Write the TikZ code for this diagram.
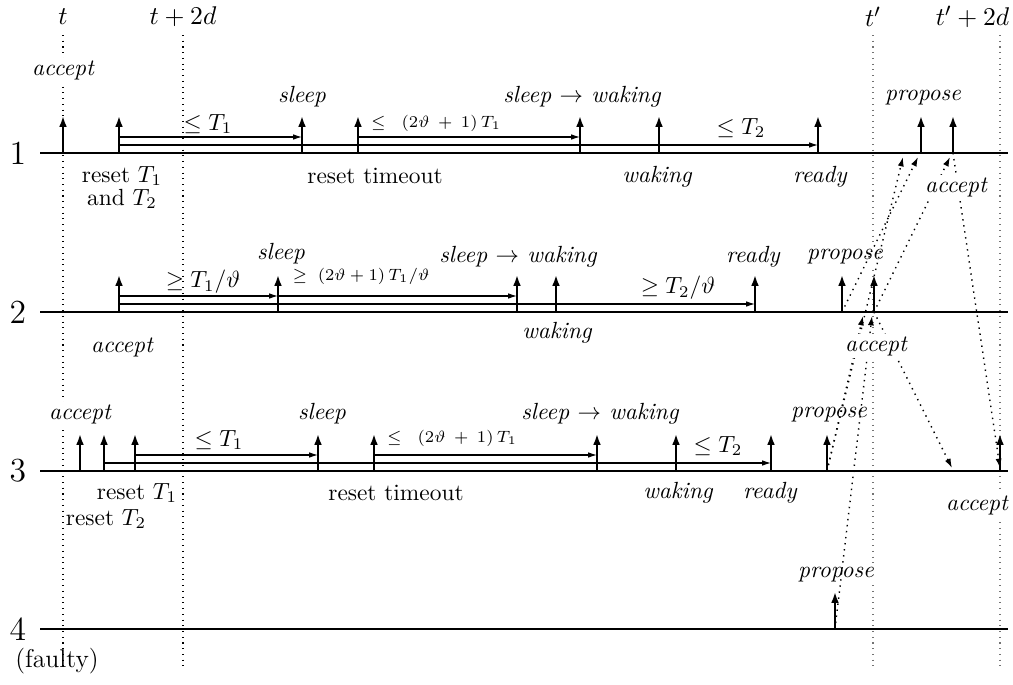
\documentclass[tikz,border=0pt]{standalone}
\usetikzlibrary{arrows.meta,calc}
\begin{document}
\begin{tikzpicture}[x=0.4275pt,y=-0.4275pt,
  procline/.style={line width=0.8pt},
  evarrow/.style={line width=0.9pt,-{Latex[length=4.6pt,width=3.3pt]}},
  tmarrow/.style={line width=0.5pt,-{Latex[length=3.8pt,width=2.4pt]}},
  timemark/.style={dotted,line width=0.45pt},
  timemarkg/.style={dotted,line width=0.45pt,black!55},
  msg/.style={line width=0.6pt,dotted,-{Latex[length=4pt,width=2.6pt]}},
  lab/.style={fill=white,inner sep=1pt,font=\itshape},
  plab/.style={fill=white,inner sep=1pt},
  bound/.style={inner sep=1pt},
  sbound/.style={inner sep=0.5pt,font=\scriptsize},
  rownum/.style={inner sep=1pt,font=\fontsize{14.4}{16}\selectfont},
  timelab/.style={inner sep=1pt,font=\fontsize{11}{13}\selectfont}
]
\useasboundingbox (0,0) rectangle (1013,685);

% an event: base point on the process line and an upward arrow
\newcommand\procevent[3]{%
  \coordinate (#1) at (#2,#3);
  \coordinate (#1t) at (#2,#3-37);
  \draw[evarrow] (#1) -- (#1t);}

% time marks
\node[timelab] (tt)  at (63,17)  {$t$};
\node[timelab] (tt2) at (183,17) {$t+2d$};
\node[timelab] (tp)  at (873,17) {$t'$};
\node[timelab,anchor=east] (tp2) at (1012,17) {$t'+2d$};
\foreach \n/\x in {a/63,b/183} {
  \coordinate (mk\n s) at (\x,35);
  \coordinate (mk\n e) at (\x,668);
  \draw[timemark] (mk\n s) -- (mk\n e);
}
\foreach \n/\x in {c/873,d/1000} {
  \coordinate (mk\n s) at (\x,35);
  \coordinate (mk\n e) at (\x,668);
  \draw[timemarkg] (mk\n s) -- (mk\n e);
}

% process lines
\foreach \r/\y in {1/153,2/312,3/471,4/629} {
  \node[rownum] (n\r) at (18,\y) {\r};
  \coordinate (p\r s) at (40,\y);
  \coordinate (p\r e) at (1008,\y);
  \draw[procline] (p\r s) -- (p\r e);
}
\node[inner sep=1pt,font=\fontsize{11}{13}\selectfont] (faulty) at (57,661) {(faulty)};

% ---- process 1
\procevent{a1a}{63}{153}
\procevent{a1r}{119}{153}
\procevent{a1s}{302}{153}
\procevent{a1t}{358}{153}
\procevent{a1sw}{580}{153}
\procevent{a1w}{659}{153}
\procevent{a1rd}{818}{153}
\procevent{a1p}{921}{153}
\procevent{a1ac}{953}{153}
\draw[tmarrow] ($(a1r)+(0,-16)$) -- ($(a1s)+(0,-16)$);
\draw[tmarrow] ($(a1t)+(0,-16)$) -- ($(a1sw)+(0,-16)$);
\draw[tmarrow] ($(a1r)+(0,-8)$) -- ($(a1rd)+(0,-8)$);

% ---- process 2
\procevent{a2a}{119}{312}
\procevent{a2s}{278}{312}
\procevent{a2sw}{517}{312}
\procevent{a2w}{556}{312}
\procevent{a2rd}{755}{312}
\procevent{a2p}{842}{312}
\procevent{a2ac}{874}{312}
\draw[tmarrow] ($(a2a)+(0,-16)$) -- ($(a2s)+(0,-16)$);
\draw[tmarrow] ($(a2s)+(0,-16)$) -- ($(a2sw)+(0,-16)$);
\draw[tmarrow] ($(a2a)+(0,-8)$) -- ($(a2rd)+(0,-8)$);

% ---- process 3
\procevent{a3a}{80}{471}
\procevent{a3r2}{104}{471}
\procevent{a3r1}{135}{471}
\procevent{a3s}{318}{471}
\procevent{a3t}{374}{471}
\procevent{a3sw}{597}{471}
\procevent{a3w}{676}{471}
\procevent{a3rd}{771}{471}
\procevent{a3p}{827}{471}
\procevent{a3ac}{1000}{471}
\draw[tmarrow] ($(a3r1)+(0,-16)$) -- ($(a3s)+(0,-16)$);
\draw[tmarrow] ($(a3t)+(0,-16)$) -- ($(a3sw)+(0,-16)$);
\draw[tmarrow] ($(a3r2)+(0,-8)$) -- ($(a3rd)+(0,-8)$);

% ---- process 4 (faulty)
\procevent{a4p}{835}{629}

% propose labels (messages run across them)
\node[lab] (l1p) at (923,98)  {propose};
\node[lab] (l2p) at (845,257) {propose};
\node[lab] (l3p) at (829,415) {propose};
\node[lab] (l4p) at (836,575) {propose};

% messages
\coordinate (r1in1) at (903,157);
\coordinate (r1in2) at (918,157);
\coordinate (r1in3) at (950,157);
\coordinate (r2in1) at (863,316);
\coordinate (r2in2) at (872,316);
\coordinate (r3in1) at (952,468);
\coordinate (r3in2) at (1000,468);
\draw[msg] (a2p) -- (r1in2);
\draw[msg] (a3p) -- (r1in1);
\draw[msg] (a3p) -- (r2in1);
\draw[msg] (a4p) -- (r2in2);
\draw[msg] (a2ac) -- (r1in3);
\draw[msg] (a2ac) -- (r3in1);
\draw[msg] (a1ac) -- (r3in2);

% labels of process 1
\node[lab] (l1a)  at (63,70)   {accept};
\node[plab] (l1r) at (122,176) {reset $T_1$};
\node[plab] (l1r2) at (122,199) {and $T_2$};
\node[lab] (l1s)  at (302,97)  {sleep};
\node[bound] (b1a) at (208,124) {$\leq T_1$};
\node[sbound] (b1b) at (436,123) {$\leq\;\;(2\vartheta\:+\:1)\,T_1$};
\node[plab] (l1t) at (375,176) {reset timeout};
\node[lab] (l1sw) at (582,97)  {sleep $\rightarrow$ waking};
\node[lab] (l1w)  at (657,177) {waking};
\node[bound] (b1c) at (741,128) {$\leq T_2$};
\node[lab] (l1rd) at (820,177) {ready};
\node[lab] (l1ac) at (956,187) {accept};

% labels of process 2
\node[lab] (l2a)  at (122,347) {accept};
\node[bound] (b2a) at (203,282) {$\geq T_1/\vartheta$};
\node[lab] (l2s)  at (281,254) {sleep};
\node[sbound] (b2b) at (361,276) {$\geq\;(2\vartheta+1)\,T_1/\vartheta$};
\node[lab] (l2sw) at (518,257) {sleep $\rightarrow$ waking};
\node[lab] (l2w)  at (557,333) {waking};
\node[bound] (b2c) at (678,288) {$\geq T_2/\vartheta$};
\node[lab] (l2rd) at (753,257) {ready};
\node[lab] (l2ac) at (876,346) {accept};

% labels of process 3
\node[lab] (l3a)  at (80,414)  {accept};
\node[plab] (l3r1) at (137,493) {reset $T_1$};
\node[plab] (l3r2) at (106,519) {reset $T_2$};
\node[lab] (l3s)  at (322,414) {sleep};
\node[bound] (b3a) at (219,440) {$\leq T_1$};
\node[sbound] (b3b) at (452,438) {$\leq\;\;(2\vartheta\:+\:1)\,T_1$};
\node[plab] (l3t) at (396,493) {reset timeout};
\node[lab] (l3sw) at (600,414) {sleep $\rightarrow$ waking};
\node[lab] (l3w)  at (678,493) {waking};
\node[bound] (b3c) at (718,446) {$\leq T_2$};
\node[lab] (l3rd) at (770,493) {ready};
\node[lab] (l3ac) at (977,505) {accept};
\end{tikzpicture}
\end{document}
